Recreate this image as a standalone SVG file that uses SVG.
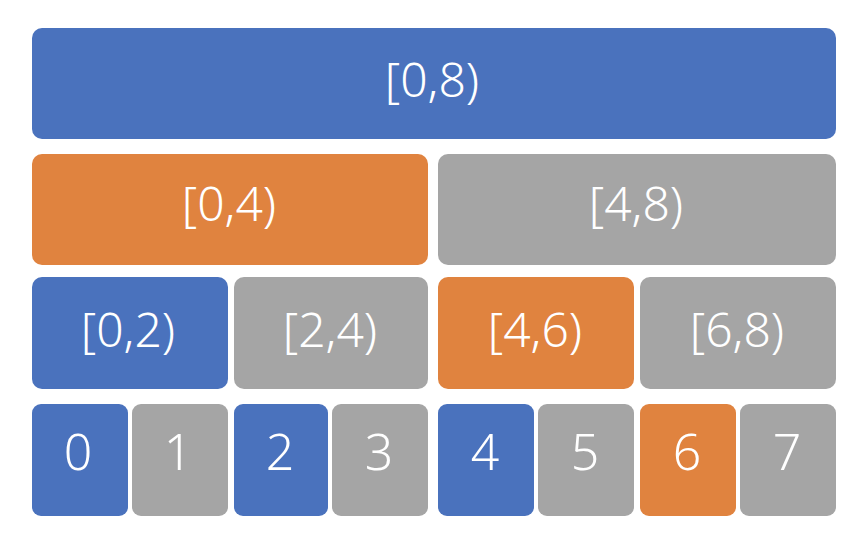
<svg xmlns="http://www.w3.org/2000/svg" width="866" height="544" viewBox="0 0 866 544">
<style>
.b{fill:#4A72BD}.o{fill:#E0833F}.g{fill:#A5A5A5}
text{fill:#fff;font-family:"Noto Sans","Liberation Sans",sans-serif;font-weight:300;text-anchor:middle}
.t{font-size:48px}.d{font-size:50px}
</style>
<rect width="866" height="544" fill="#fff"/>
<g id="n08"><rect class="b" x="32" y="28" width="804" height="111" rx="10"/><text class="t" x="432" y="97">[0,8)</text></g>
<g id="n04"><rect class="o" x="32" y="154" width="396" height="111" rx="10"/><text class="t" x="229" y="221">[0,4)</text></g>
<g id="n48"><rect class="g" x="438" y="154" width="398" height="111" rx="10"/><text class="t" x="636" y="221">[4,8)</text></g>
<g id="n02"><rect class="b" x="32" y="277" width="196" height="112" rx="10"/><text class="t" x="128" y="347">[0,2)</text></g>
<g id="n24"><rect class="g" x="234" y="277" width="194" height="112" rx="10"/><text class="t" x="330" y="347">[2,4)</text></g>
<g id="n46"><rect class="o" x="438" y="277" width="196" height="112" rx="10"/><text class="t" x="535" y="347">[4,6)</text></g>
<g id="n68"><rect class="g" x="640" y="277" width="196" height="112" rx="10"/><text class="t" x="737" y="347">[6,8)</text></g>
<g id="n0"><rect class="b" x="32" y="404" width="96" height="112" rx="9"/><text class="d" x="78" y="470">0</text></g>
<g id="n1"><rect class="g" x="132" y="404" width="96" height="112" rx="9"/><text class="d" x="178" y="470">1</text></g>
<g id="n2"><rect class="b" x="234" y="404" width="94" height="112" rx="9"/><text class="d" x="280" y="470">2</text></g>
<g id="n3"><rect class="g" x="332" y="404" width="96" height="112" rx="9"/><text class="d" x="379" y="470">3</text></g>
<g id="n4"><rect class="b" x="438" y="404" width="96" height="112" rx="9"/><text class="d" x="485" y="470">4</text></g>
<g id="n5"><rect class="g" x="538" y="404" width="96" height="112" rx="9"/><text class="d" x="585" y="470">5</text></g>
<g id="n6"><rect class="o" x="640" y="404" width="96" height="112" rx="9"/><text class="d" x="687" y="470">6</text></g>
<g id="n7"><rect class="g" x="740" y="404" width="96" height="112" rx="9"/><text class="d" x="787" y="470">7</text></g>
<g id="connectors"/>
</svg>
